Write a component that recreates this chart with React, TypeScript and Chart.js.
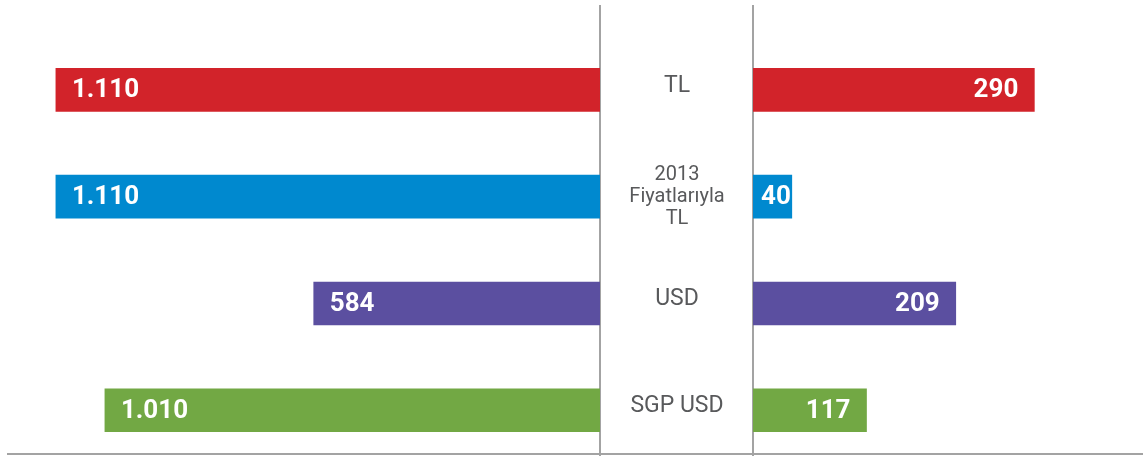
import React, { useEffect, useRef } from 'react';
import { Chart, registerables } from 'chart.js';

Chart.register(...registerables);

// ---- data ----
const categories = ['TL', '2013\nFiyatlarıyla\nTL', 'USD', 'SGP USD'];
const leftValues = [1110, 1110, 584, 1010];
const rightValues = [290, 40, 209, 117];
const barColors = ['#d2232a', '#0089cf', '#5b4fa0', '#72a844'];

// ---- axis ranges ----
const leftAxisMax = 1224;
const rightAxisMax = 402;
const rowMin = -0.786;
const rowMax = 3.419;

const LINE_COLOR = '#a3a3a3';
const TEXT_COLOR = '#58595b';

const fmt = (v: number) => String(v).replace(/\B(?=(\d{3})+(?!\d))/g, '.');

const valueLabelPlugin = (side: 'left' | 'right') => ({
  id: 'valueLabels_' + side,
  afterDatasetsDraw(chart: any) {
    const ctx = chart.ctx;
    const meta = chart.getDatasetMeta(0);
    const data = chart.data.datasets[0].data as any[];
    ctx.save();
    ctx.font = 'bold 26px Roboto, "Liberation Sans", sans-serif';
    ctx.fillStyle = '#ffffff';
    ctx.textBaseline = 'middle';
    meta.data.forEach((el: any, i: number) => {
      const txt = fmt(data[i].x);
      const w = ctx.measureText(txt).width;
      ctx.textAlign = 'left';
      let x: number;
      if (side === 'left') {
        x = Math.min(el.x, el.base) + 16;
      } else {
        const end = Math.max(el.x, el.base);
        const start = Math.min(el.x, el.base);
        x = Math.max(end - 16 - w, start + 8);
      }
      ctx.fillText(txt, x, el.y + 1);
    });
    ctx.restore();
  },
});

const centerLabelPlugin = {
  id: 'centerLabels',
  afterDraw(chart: any) {
    const ys = chart.scales.y;
    const ctx = chart.ctx;
    const cx = (ys.left + ys.right) / 2;
    ctx.save();
    ctx.fillStyle = TEXT_COLOR;
    ctx.textAlign = 'center';
    ctx.textBaseline = 'middle';
    categories.forEach((c, i) => {
      const lines = c.split('\n');
      const multi = lines.length > 1;
      const size = multi ? 20 : 23;
      const lh = multi ? 22 : 23;
      ctx.font = `${size}px Roboto, "Liberation Sans", sans-serif`;
      const y = ys.getPixelForValue(i) - (multi ? 0 : 4);
      const y0 = y - ((lines.length - 1) * lh) / 2;
      lines.forEach((ln, k) => ctx.fillText(ln, cx, y0 + k * lh));
    });
    ctx.restore();
  },
};

function makeConfig(side: 'left' | 'right'): any {
  const values = side === 'left' ? leftValues : rightValues;
  return {
    type: 'bar',
    data: {
      datasets: [
        {
          data: values.map((v, i) => ({ x: v, y: i })),
          backgroundColor: barColors,
          borderWidth: 0,
          barThickness: 43,
        },
      ],
    },
    options: {
      indexAxis: 'y',
      animation: false,
      responsive: false,
      maintainAspectRatio: false,
      layout: { padding: { top: 6, bottom: 1, left: 0, right: 0 } },
      plugins: { legend: { display: false }, tooltip: { enabled: false } },
      scales: {
        x: {
          type: 'linear',
          display: false,
          reverse: side === 'left',
          min: 0,
          max: side === 'left' ? leftAxisMax : rightAxisMax,
        },
        y: {
          type: 'linear',
          offset: false,
          reverse: true,
          min: rowMin,
          max: rowMax,
          position: side === 'left' ? 'right' : 'left',
          ticks: { display: false, includeBounds: false },
          grid: { display: false, offset: false },
          border: { display: true, color: LINE_COLOR, width: 2 },
          afterFit: (scale: any) => {
            scale.width = side === 'left' ? 1 : 152;
          },
        },
      },
    },
    plugins: side === 'left' ? [valueLabelPlugin('left')] : [valueLabelPlugin('right'), centerLabelPlugin],
  };
}

export default function App() {
  const leftRef = useRef<HTMLCanvasElement>(null);
  const rightRef = useRef<HTMLCanvasElement>(null);

  useEffect(() => {
    document.body.style.margin = '0';
    const l = new Chart(leftRef.current as HTMLCanvasElement, makeConfig('left'));
    const r = new Chart(rightRef.current as HTMLCanvasElement, makeConfig('right'));
    return () => {
      l.destroy();
      r.destroy();
    };
  }, []);

  return (
    <div style={{ position: 'relative', width: 1143, height: 456, overflow: 'hidden', background: '#fff' }}>
      <canvas ref={leftRef} width={601} height={456} style={{ position: 'absolute', left: 0, top: 0 }} />
      <canvas ref={rightRef} width={542} height={456} style={{ position: 'absolute', left: 601, top: 0 }} />
      <div style={{ position: 'absolute', left: 7, top: 453, width: 1136, height: 2, background: LINE_COLOR }} />
    </div>
  );
}
